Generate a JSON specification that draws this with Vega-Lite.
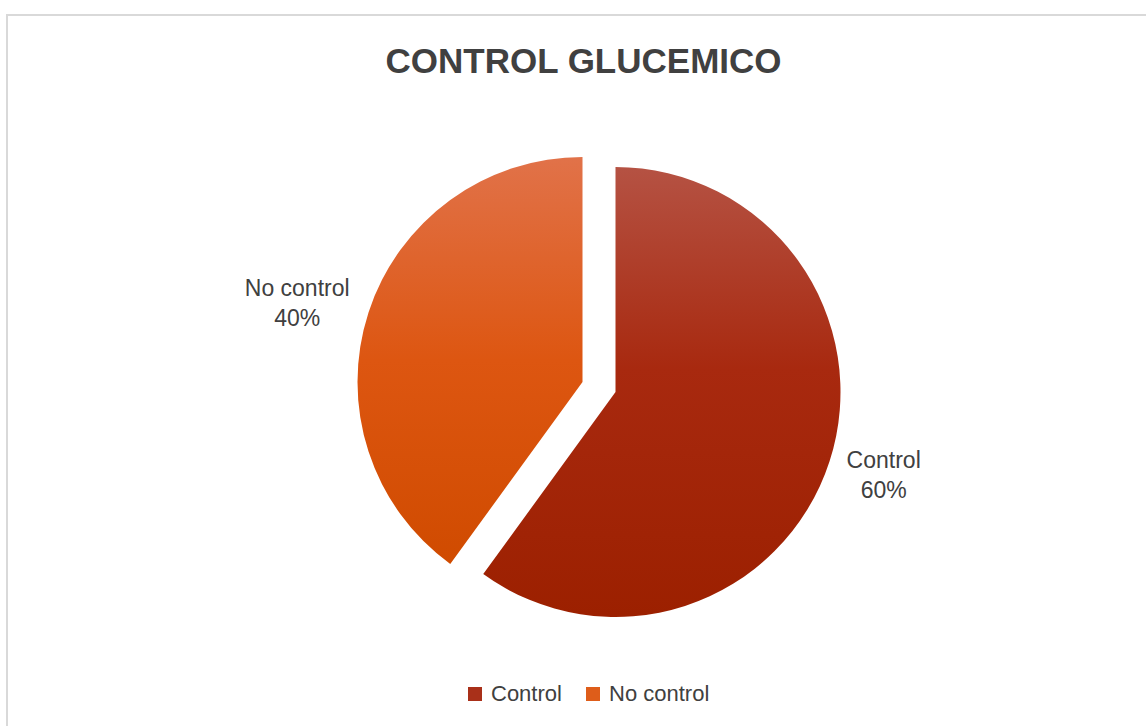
{
  "$schema": "https://vega.github.io/schema/vega-lite/v6.json",
  "autosize": "none",
  "width": 1145,
  "height": 716,
  "padding": {"left": 7, "top": 15, "right": 0, "bottom": 0},
  "background": "white",
  "config": {
    "view": {"stroke": null},
    "font": "Liberation Sans"
  },
  "title": {
    "text": "CONTROL GLUCEMICO",
    "font": "Liberation Sans",
    "fontSize": 35,
    "fontWeight": "bold",
    "color": "#404040",
    "anchor": "middle",
    "frame": "group",
    "offset": -66,
    "dx": 4
  },
  "data": {
    "values": [
      {"cat": "Control", "value": 60, "label": "Control\n60%"},
      {"cat": "No control", "value": 40, "label": "No control\n40%"}
    ]
  },
  "layer": [
    {
      "data": {"values": [{"frame": "border"}]},
      "mark": {"type": "rect", "fill": null, "stroke": "#D9D9D9", "strokeWidth": 2},
      "encoding": {
        "x": {"value": 0},
        "x2": {"value": "width"},
        "y": {"value": 0},
        "y2": {"value": "height"}
      }
    },
    {
      "mark": {
        "type": "arc",
        "radius": 225,
        "xOffset": 36,
        "yOffset": 19,
        "fill": {
          "gradient": "linear", "x1": 0, "y1": 0, "x2": 0, "y2": 1,
          "stops": [
            {"offset": 0, "color": "#B55243"},
            {"offset": 0.45, "color": "#A8290F"},
            {"offset": 1, "color": "#9C2000"}
          ]
        }
      },
      "encoding": {
        "theta": {"field": "value", "type": "quantitative", "stack": true},
        "detail": {"field": "cat", "type": "nominal"},
        "opacity": {"condition": {"test": "datum.cat === 'Control'", "value": 1}, "value": 0}
      }
    },
    {
      "mark": {
        "type": "arc",
        "radius": 225,
        "xOffset": 3,
        "yOffset": 9,
        "fill": {
          "gradient": "linear", "x1": 0, "y1": 0, "x2": 0, "y2": 1,
          "stops": [
            {"offset": 0, "color": "#E17249"},
            {"offset": 0.5, "color": "#DD5611"},
            {"offset": 1, "color": "#D04B00"}
          ]
        }
      },
      "encoding": {
        "theta": {"field": "value", "type": "quantitative", "stack": true},
        "detail": {"field": "cat", "type": "nominal"},
        "opacity": {"condition": {"test": "datum.cat === 'No control'", "value": 1}, "value": 0}
      }
    },
    {
      "mark": {
        "type": "text",
        "radius": 282,
        "xOffset": 36,
        "yOffset": 19,
        "dy": -18,
        "fontSize": 23,
        "lineBreak": "\n",
        "lineHeight": 30,
        "color": "#404040",
        "align": "center",
        "baseline": "middle"
      },
      "encoding": {
        "theta": {"field": "value", "type": "quantitative", "stack": true},
        "detail": {"field": "cat", "type": "nominal"},
        "text": {"field": "label", "type": "nominal"},
        "opacity": {"condition": {"test": "datum.cat === 'Control'", "value": 1}, "value": 0}
      }
    },
    {
      "mark": {
        "type": "text",
        "radius": 300,
        "xOffset": 3,
        "yOffset": 9,
        "fontSize": 23,
        "lineBreak": "\n",
        "lineHeight": 30,
        "color": "#404040",
        "align": "center",
        "baseline": "middle"
      },
      "encoding": {
        "theta": {"field": "value", "type": "quantitative", "stack": true},
        "detail": {"field": "cat", "type": "nominal"},
        "text": {"field": "label", "type": "nominal"},
        "opacity": {"condition": {"test": "datum.cat === 'No control'", "value": 1}, "value": 0}
      }
    },
    {
      "mark": {"type": "arc", "radius": 10, "opacity": 0},
      "encoding": {
        "theta": {"field": "value", "type": "quantitative", "stack": true},
        "color": {
          "field": "cat",
          "type": "nominal",
          "scale": {"domain": ["Control", "No control"], "range": ["#A93019", "#DE5D1A"]},
          "legend": {
            "title": null,
            "orient": "none",
            "legendX": 457,
            "legendY": 668,
            "direction": "horizontal",
            "symbolType": "square",
            "symbolSize": 196,
            "symbolOpacity": 1,
            "symbolStrokeWidth": 0,
            "labelFontSize": 22,
            "labelColor": "#404040",
            "labelFont": "Liberation Sans",
            "labelOffset": 5,
            "columnPadding": 20
          }
        }
      }
    }
  ]
}
